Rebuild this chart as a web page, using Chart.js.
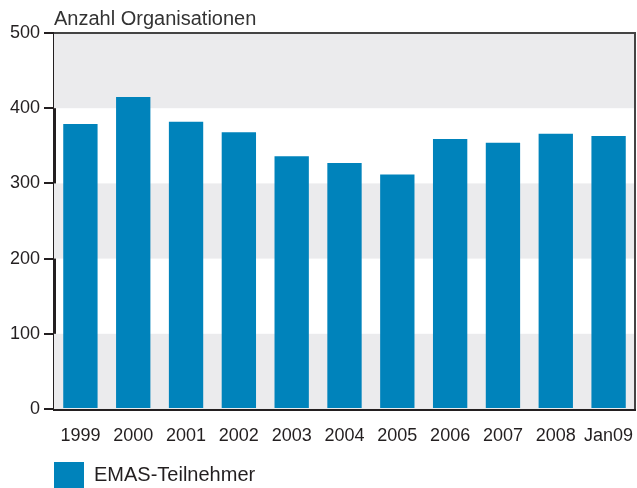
<!DOCTYPE html>
<html>
<head>
<meta charset="utf-8">
<script src="https://cdn.jsdelivr.net/npm/chart.js@4"></script>
<style>
  body { margin: 0; background: #fff; }
  #wrap { width: 637px; height: 488px; }
</style>
</head>
<body>
<div id="wrap"><canvas id="grafico"></canvas></div>
<script>
const jahre = ['1999', '2000', '2001', '2002', '2003', '2004', '2005', '2006', '2007', '2008', 'Jan09'];
const teilnehmer = [379, 415, 382, 368, 336, 327, 312, 359, 354, 366, 363];
const yTicks = [0, 100, 200, 300, 400, 500];
const baender = [[0, 100], [200, 300], [400, 500]];

const dunkel = '#231f20';
const schrift = "'Liberation Sans', Arial, sans-serif";

// graue Baender und Rahmen oben/rechts
const hintergrund = {
    id: 'hintergrund',
    beforeDatasetsDraw(chart) {
        const { ctx, chartArea: a, scales: { y } } = chart;
        ctx.save();
        ctx.fillStyle = '#ebebed';
        baender.forEach(([von, bis]) => {
            const y1 = y.getPixelForValue(bis);
            const y2 = y.getPixelForValue(von);
            ctx.fillRect(a.left, y1, a.right - a.left, y2 - y1);
        });
        ctx.restore();
    },
    afterDraw(chart) {
        const { ctx, chartArea: a } = chart;
        ctx.save();
        ctx.strokeStyle = '#444';
        ctx.lineWidth = 2;
        ctx.beginPath();
        ctx.moveTo(a.left, a.top);
        ctx.lineTo(a.right, a.top);
        ctx.lineTo(a.right, a.bottom);
        ctx.stroke();
        ctx.restore();
    }
};

new Chart(document.getElementById('grafico'), {
    type: 'bar',
    data: {
        labels: jahre,
        datasets: [{
            label: 'EMAS-Teilnehmer',
            data: teilnehmer,
            backgroundColor: '#0083bb',
            barPercentage: 0.65,
            categoryPercentage: 1
        }]
    },
    options: {
        responsive: true,
        maintainAspectRatio: false,
        animation: false,
        layout: { padding: { left: 0, right: 2, top: 0, bottom: -10 } },
        plugins: {
            tooltip: { enabled: false },
            title: {
                display: true,
                text: 'Anzahl Organisationen',
                align: 'start',
                fullSize: false,
                color: '#333',
                font: { family: schrift, size: 20, weight: 'normal' },
                padding: { top: 7, bottom: 2 }
            },
            legend: {
                position: 'bottom',
                align: 'start',
                fullSize: false,
                labels: {
                    boxWidth: 30,
                    boxHeight: 26,
                    padding: 0,
                    color: dunkel,
                    font: { family: schrift, size: 20 }
                }
            }
        },
        scales: {
            x: {
                grid: { display: false },
                border: { display: true, width: 3, color: dunkel },
                afterFit: axis => { axis.height = 53; axis.paddingLeft = 0; axis.paddingRight = 0; },
                ticks: {
                    color: dunkel,
                    padding: 8,
                    maxRotation: 0,
                    font: { family: schrift, size: 18 }
                }
            },
            y: {
                min: 0,
                max: 500,
                afterBuildTicks: axis => { axis.ticks = yTicks.map(v => ({ value: v })); },
                afterFit: axis => { axis.width = 54; },
                grid: { drawOnChartArea: false, tickLength: 10, color: dunkel, lineWidth: 2 },
                border: { display: true, width: 3, color: dunkel },
                ticks: {
                    color: dunkel,
                    padding: 4,
                    font: { family: schrift, size: 18 }
                }
            }
        }
    },
    plugins: [hintergrund]
});
</script>
</body>
</html>
